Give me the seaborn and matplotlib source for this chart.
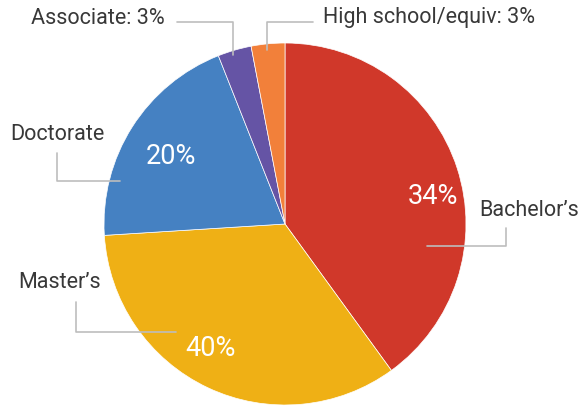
import matplotlib
matplotlib.use("Agg")
import matplotlib.pyplot as plt
import seaborn as sns

# slice sizes as drawn in the picture (clockwise from 12 o'clock)
categories = ["Bachelor\u2019s", "Master\u2019s", "Doctorate", "Associate", "High school/equiv"]
shares = [40, 34, 20, 3, 3]
# percentages as printed on the chart
pct_text = ["34%", "40%", "20%", "3%", "3%"]
colors = ["#D0382A", "#EFB015", "#4581C2", "#6554A5", "#F2803A"]

sns.set_style("white")
plt.rcParams['font.family'] = ['Roboto', 'DejaVu Sans']

W, H = 582, 407
fig = plt.figure(figsize=(W / 100, H / 100), dpi=100)
ax = fig.add_axes([0, 0, 1, 1])

# pixel coords of the picture, y flipped
def Y(y):
    return H - y

ax.pie(shares, startangle=90, counterclock=False, colors=colors,
       center=(285, Y(224)), radius=181,
       wedgeprops=dict(edgecolor="white", linewidth=0.5))
ax.set_xlim(0, W)
ax.set_ylim(0, H)
ax.set_aspect("equal")
ax.axis("off")

lc = "#BDBDBD"
lw = 1.2
txt = "#383838"
fs_lab = 15.5
fs_pct = 19.5

# percentages inside slices
ax.text(433, Y(197), pct_text[0], color="white", fontsize=fs_pct, ha="center", va="center")
ax.text(210, Y(349), pct_text[1], color="white", fontsize=fs_pct, ha="center", va="center")
ax.text(171, Y(156), pct_text[2], color="white", fontsize=fs_pct, ha="center", va="center")

# leader lines
ax.plot([427, 506, 506], [Y(246), Y(246), Y(228)], color=lc, lw=lw)
ax.plot([176, 76, 76], [Y(332), Y(332), Y(302)], color=lc, lw=lw)
ax.plot([120, 57, 57], [Y(181), Y(181), Y(153)], color=lc, lw=lw)
ax.plot([233, 233, 177], [Y(55), Y(22), Y(22)], color=lc, lw=lw)
ax.plot([267, 267, 313], [Y(50), Y(22), Y(22)], color=lc, lw=lw)

# outside labels
ax.text(479, Y(210), categories[0], color=txt, fontsize=fs_lab, ha="left", va="center")
ax.text(60, Y(283), categories[1], color=txt, fontsize=fs_lab, ha="center", va="center")
ax.text(57, Y(134), categories[2], color=txt, fontsize=fs_lab, ha="center", va="center")
ax.text(165, Y(18), f"{categories[3]}: {pct_text[3]}", color=txt, fontsize=fs_lab,
        ha="right", va="center")
ax.text(323, Y(18), f"{categories[4]}: {pct_text[4]}", color=txt, fontsize=fs_lab,
        ha="left", va="center")

fig.savefig("out.png", dpi=100)
